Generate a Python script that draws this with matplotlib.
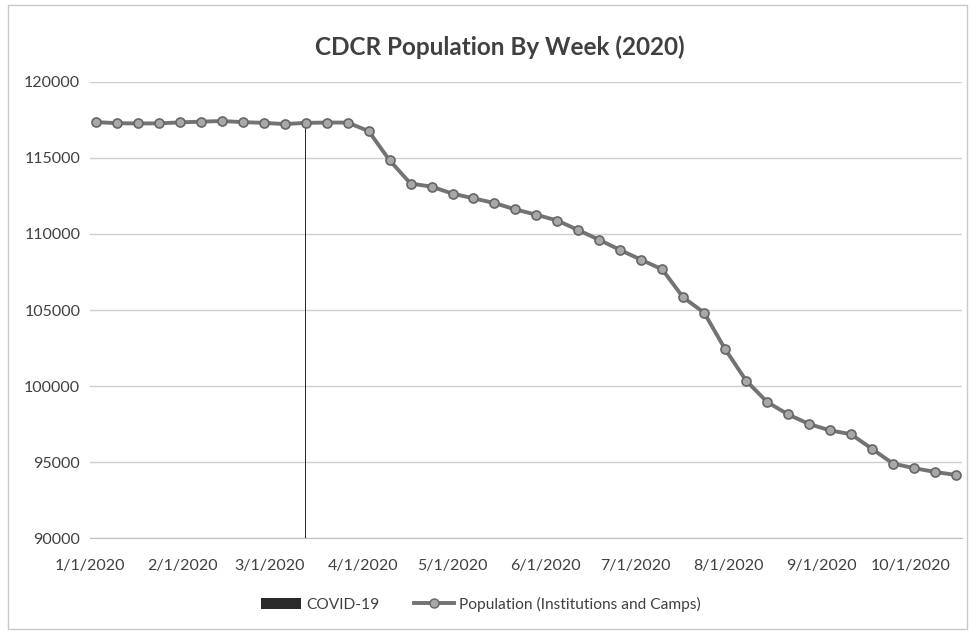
import numpy as np
import pandas as pd
import matplotlib
matplotlib.use("Agg")
import matplotlib.pyplot as plt
from matplotlib.patches import Patch, Rectangle
from matplotlib.lines import Line2D

# weekly population counts, starting 1/3/2020
start_date = "2020-01-03"
population = [117350, 117280, 117260, 117270, 117330, 117380, 117420, 117350,
              117300, 117220, 117300, 117320, 117320, 116760, 114840, 113310,
              113110, 112650, 112340, 112030, 111610, 111260, 110880, 110250,
              109610, 108940, 108300, 107670, 105830, 104820, 102430, 100360,
              98960, 98140, 97510, 97090, 96840, 95880, 94910, 94610,
              94360, 94160]
covid_date = "2020-03-13"
covid_value = 117300

tick_dates = ["2020-01-01", "2020-02-01", "2020-03-01", "2020-04-01", "2020-05-01",
              "2020-06-01", "2020-07-01", "2020-08-01", "2020-09-01", "2020-10-01"]
tick_labels = ["1/1/2020", "2/1/2020", "3/1/2020", "4/1/2020", "5/1/2020",
               "6/1/2020", "7/1/2020", "8/1/2020", "9/1/2020", "10/1/2020"]
y_ticks = [90000, 95000, 100000, 105000, 110000, 115000, 120000]

dates = pd.date_range(start_date, periods=len(population), freq="7D")

plt.rcParams['font.family'] = ['Lato', 'DejaVu Sans']

fig = plt.figure(figsize=(9.73, 6.34), dpi=100)
ax = fig.add_axes([0.0925, 0.151, 0.896, 0.72])

# outer chart border
fig.add_artist(Rectangle((0.008, 0.008), 0.986, 0.984, transform=fig.transFigure,
                         fill=False, edgecolor="#c8c8c8", linewidth=1))

ax.bar(pd.to_datetime([covid_date]), [covid_value], width=0.5, color="#2a2a2a", zorder=2)
ax.plot(dates, population, color="#737373", linewidth=2.8, marker="o", markersize=6.5,
        markerfacecolor="#a8a8a8", markeredgecolor="#666666", markeredgewidth=1.2, zorder=3)

ax.set_xlim(pd.Timestamp("2020-01-01"), pd.Timestamp("2020-10-18"))
ax.set_ylim(90000, 120000)
ax.set_yticks(y_ticks)
ax.set_yticklabels([str(v) for v in y_ticks])
ax.set_xticks(pd.to_datetime(tick_dates))
ax.set_xticklabels(tick_labels)
ax.tick_params(length=0, labelsize=11.5, colors="#404040")
ax.tick_params(axis="x", pad=15)
ax.tick_params(axis="y", pad=7)
ax.grid(axis="y", color="#cfcfcf", linewidth=1)
ax.set_axisbelow(True)
for s in ["top", "right", "left"]:
    ax.spines[s].set_visible(False)
ax.spines["bottom"].set_color("#bfbfbf")

fig.text(0.514, 0.926, "CDCR Population By Week (2020)", ha="center", va="center",
         fontsize=17.5, fontweight="bold", color="#404040")

handles = [Patch(facecolor="#2a2a2a", edgecolor="none", label="COVID-19"),
           Line2D([0], [0], color="#737373", linewidth=2.8, marker="o", markersize=6.5,
                  markerfacecolor="#a8a8a8", markeredgecolor="#666666",
                  label="Population (Institutions and Camps)")]
fig.legend(handles=handles, loc="center", bbox_to_anchor=(0.494, 0.047), ncol=2,
           frameon=False, fontsize=11.2, handlelength=2.6, columnspacing=2.2,
           handletextpad=0.3, labelcolor="#404040")

fig.savefig("out.png", dpi=100)
